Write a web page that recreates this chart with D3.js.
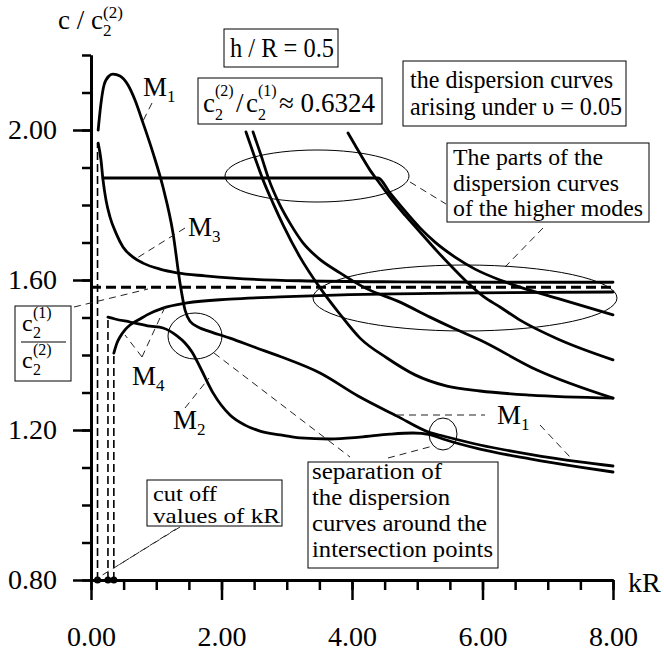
<!DOCTYPE html>
<head>
<meta charset="utf-8">
<style>
body { margin: 0; background: #fff; }
svg text { font-family: "Liberation Serif", "DejaVu Serif", serif; fill: #000; }
</style>
</head>
<body>
<script src="https://d3js.org/d3.v7.min.js"></script>
<script>
// axis ticks
var kRMajor = [0, 2, 4, 6, 8];
var kRMinor = d3.range(0, 8.01, 0.5);
var cMajor = [0.8, 1.2, 1.6, 2.0];
var cMinor = d3.range(0.8, 2.201, 0.1);

// c2(1)/c2(2) level and cut off values of kR
var ratio = 1.581;
var cutoffs = [0.1, 0.26, 0.35];

// dispersion curves [kR, c/c2(2)]
var modeM1 = [[0.11, 2.0], [0.15, 2.067], [0.2, 2.12], [0.276, 2.144], [0.337, 2.149], [0.444, 2.144],
    [0.567, 2.12], [0.674, 2.08], [0.797, 2.019], [0.95, 1.939], [1.103, 1.848], [1.257, 1.725],
    [1.364, 1.592], [1.441, 1.52], [1.517, 1.49], [1.67, 1.472], [1.778, 1.465], [2.13, 1.445],
    [2.52, 1.42], [2.9, 1.396], [3.51, 1.352], [4.1, 1.29], [4.69, 1.237], [5.195, 1.193],
    [5.395, 1.184], [5.962, 1.16], [6.728, 1.135], [7.494, 1.115], [8.0, 1.104]];
var modeM2 = [[0.26, 1.501], [0.368, 1.496], [0.598, 1.488], [0.904, 1.477], [1.103, 1.472],
    [1.318, 1.451], [1.441, 1.432], [1.548, 1.408], [1.67, 1.368], [1.87, 1.299], [2.13, 1.24],
    [2.36, 1.213], [2.59, 1.197], [2.897, 1.187], [3.203, 1.179], [3.663, 1.176], [4.123, 1.181],
    [4.582, 1.189], [4.935, 1.192], [5.195, 1.188], [5.395, 1.176], [5.962, 1.149], [6.728, 1.123],
    [7.494, 1.101], [8.0, 1.088]];
var modeM3 = [[0.11, 1.965], [0.153, 1.92], [0.184, 1.867], [0.23, 1.813], [0.291, 1.768],
    [0.383, 1.725], [0.49, 1.688], [0.644, 1.661], [0.797, 1.645], [1.057, 1.629], [1.318, 1.619],
    [1.747, 1.611], [2.176, 1.605], [3.203, 1.598], [4.736, 1.595], [6.268, 1.594], [8.0, 1.594]];
var modeM4 = [[0.35, 1.405], [0.398, 1.432], [0.444, 1.448], [0.521, 1.467], [0.598, 1.48],
    [0.751, 1.496], [0.858, 1.507], [1.103, 1.525], [1.471, 1.539], [2.13, 1.549], [2.897, 1.555],
    [3.969, 1.561], [5.502, 1.565], [8.0, 1.568]];
var higherA = [[2.375, 1.995], [2.498, 1.933], [2.636, 1.867], [2.789, 1.805], [2.943, 1.747],
    [3.203, 1.661], [3.51, 1.579], [3.801, 1.512], [4.123, 1.445], [4.536, 1.392], [4.966, 1.347],
    [5.456, 1.317], [5.962, 1.304], [6.728, 1.293], [8.0, 1.285]];
var higherB = [[2.483, 1.995], [2.605, 1.933], [2.728, 1.867], [2.881, 1.805], [3.065, 1.747],
    [3.249, 1.699], [3.479, 1.659], [3.816, 1.619], [4.199, 1.579], [4.736, 1.541], [5.195, 1.501],
    [5.548, 1.472], [5.962, 1.44], [6.835, 1.36], [8.0, 1.285]];
var higherC = [[3.939, 1.992], [4.046, 1.96], [4.153, 1.928], [4.276, 1.893], [4.398, 1.864],
    [4.582, 1.821], [4.812, 1.773], [5.042, 1.728], [5.303, 1.677], [5.548, 1.632], [5.778, 1.592],
    [6.008, 1.557], [6.268, 1.528], [6.575, 1.493], [7.188, 1.44], [8.0, 1.387]];
var higherD = [[0.184, 1.872], [4.398, 1.872], [4.582, 1.832], [4.812, 1.784], [5.042, 1.739],
    [5.272, 1.701], [5.579, 1.661], [5.885, 1.629], [6.268, 1.6], [6.575, 1.581], [7.188, 1.549],
    [8.0, 1.507]];

var width = 664, height = 656;
var serif = "Liberation Serif, DejaVu Serif, serif";

var svg = d3.select("body").append("svg")
    .attr("width", width)
    .attr("height", height)
    .attr("font-family", serif);

var x = d3.scaleLinear().domain([0, 8]).range([91, 613]);
var y = d3.scaleLinear().domain([0.8, 2.2]).range([580, 55]);

// axes
function styleAxis(g) {
    g.attr("font-family", serif).attr("font-size", null);
    g.select(".domain").attr("stroke-width", 3);
    g.selectAll(".tick line").attr("stroke-width", 2.5);
    g.selectAll(".tick text").attr("font-size", 28).attr("font-family", serif);
}
svg.append("g")
    .attr("transform", "translate(0,580)")
    .call(d3.axisBottom(x).tickValues(kRMinor).tickSize(10).tickSizeOuter(0).tickFormat(""))
    .call(styleAxis);
svg.append("g")
    .attr("transform", "translate(0,580)")
    .call(d3.axisBottom(x).tickValues(kRMajor).tickSize(20).tickSizeOuter(0).tickPadding(26).tickFormat(d3.format(".2f")))
    .call(styleAxis);
svg.append("g")
    .attr("transform", "translate(91,0)")
    .call(d3.axisLeft(y).tickValues(cMinor).tickSize(9).tickSizeOuter(0).tickFormat(""))
    .call(styleAxis);
svg.append("g")
    .attr("transform", "translate(91,0)")
    .call(d3.axisLeft(y).tickValues(cMajor).tickSize(18).tickSizeOuter(0).tickPadding(16).tickFormat(d3.format(".2f")))
    .call(styleAxis);

function label(txt, px, py, size, len) {
    var t = svg.append("text")
        .attr("x", px).attr("y", py)
        .attr("font-size", size)
        .attr("font-family", serif)
        .text(txt);
    if (len) t.attr("textLength", len).attr("lengthAdjust", "spacingAndGlyphs");
    return t;
}

// axis titles
var yt = label("c / c", 58, 29, 27);
yt.append("tspan").attr("font-size", 17).attr("dy", 7).text("2");
yt.append("tspan").attr("font-size", 17).attr("dx", -8.5).attr("dy", -18).text("(2)");
label("kR", 628, 592, 28);

// ratio line and cut off lines
svg.append("line")
    .attr("x1", x(0)).attr("x2", x(8))
    .attr("y1", y(ratio)).attr("y2", y(ratio))
    .attr("stroke", "#000").attr("stroke-width", 3)
    .attr("stroke-dasharray", "10,5");

var cutTops = [modeM3[0][1], modeM2[0][1], modeM4[0][1]];
svg.selectAll(".cut").data(cutoffs).enter().append("line")
    .attr("class", "cut")
    .attr("x1", function (d) { return x(d); })
    .attr("x2", function (d) { return x(d); })
    .attr("y1", y(0.8))
    .attr("y2", function (d, i) { return y(cutTops[i]); })
    .attr("stroke", "#000").attr("stroke-width", 1.6)
    .attr("stroke-dasharray", "8,4");
svg.selectAll(".dot").data(cutoffs).enter().append("circle")
    .attr("class", "dot")
    .attr("cx", function (d) { return x(d); })
    .attr("cy", y(0.8))
    .attr("r", 3.5)
    .attr("fill", "#000");

// curves
var line = d3.line()
    .x(function (d) { return x(d[0]); })
    .y(function (d) { return y(d[1]); })
    .curve(d3.curveMonotoneX);
[modeM1, modeM2, modeM3, modeM4, higherA, higherB, higherC, higherD].forEach(function (c) {
    svg.append("path")
        .attr("d", line(c))
        .attr("fill", "none")
        .attr("stroke", "#000")
        .attr("stroke-width", 2.8)
        .attr("stroke-linecap", "round");
});

// ellipses around the interesting regions
var rings = [[317, 176, 92, 26], [465, 298, 152, 33], [195, 336, 27, 23], [443, 434, 14, 16]];
rings.forEach(function (e) {
    svg.append("ellipse")
        .attr("cx", e[0]).attr("cy", e[1]).attr("rx", e[2]).attr("ry", e[3])
        .attr("fill", "none").attr("stroke", "#000").attr("stroke-width", 1);
});

// dashed leaders
var leaders = [[152, 103, 142, 123], [185, 228, 137, 258], [74, 307, 148, 289],
    [142, 357, 125, 335], [142, 357, 165, 307], [185, 408, 209, 378],
    [214, 353, 350, 457], [388, 458, 433, 446], [397, 415, 485, 415], [540, 425, 570, 457],
    [180, 527, 96, 579], [176, 529, 114, 568], [410, 182, 446, 204], [543, 228, 505, 267]];
leaders.forEach(function (l) {
    svg.append("line")
        .attr("x1", l[0]).attr("y1", l[1]).attr("x2", l[2]).attr("y2", l[3])
        .attr("stroke", "#222").attr("stroke-width", 1)
        .attr("stroke-dasharray", "7,5");
});

// boxes
var boxes = [[224, 29, 114, 38], [198, 78, 184, 46], [403, 61, 223, 65], [447, 143, 202, 79],
    [15, 306, 56, 75], [147, 480, 135, 46], [308, 462, 190, 106]];
boxes.forEach(function (b) {
    svg.append("rect")
        .attr("x", b[0]).attr("y", b[1]).attr("width", b[2]).attr("height", b[3])
        .attr("fill", "#fff").attr("stroke", "#000").attr("stroke-width", 1);
});

function mode(n, px, py) {
    var t = label("M", px, py, 27);
    t.append("tspan").attr("font-size", 17).attr("dy", 6).text(n);
}
mode("1", 143, 96);
mode("3", 188, 236);
mode("4", 132, 385);
mode("2", 173, 429);
mode("1", 497, 424);

label("h / R = 0.5", 230, 57, 27, 104);

label("c", 203, 112, 27);
label("(2)", 215, 96, 16);
label("2", 215, 120, 16);
label("/", 236, 112, 27);
label("c", 246, 112, 27);
label("(1)", 258, 96, 16);
label("2", 258, 120, 16);
label("\u2248 0.6324", 279, 112, 27, 96);

label("the dispersion curves", 410, 88, 25, 203);
label("arising under \u03c5 = 0.05", 410, 115, 25, 212);

label("The parts of the", 453, 165, 23, 150);
label("dispersion curves", 453, 191, 23, 166);
label("of the higher modes", 453, 216, 23, 190);

label("c", 22, 331, 24);
label("(1)", 33, 318, 16);
label("2", 33, 338, 16);
svg.append("line").attr("x1", 21).attr("x2", 66).attr("y1", 342).attr("y2", 342)
    .attr("stroke", "#000").attr("stroke-width", 1.2);
label("c", 22, 368, 24);
label("(2)", 33, 355, 16);
label("2", 33, 375, 16);

label("cut off", 153, 501, 21, 64);
label("values of  kR", 153, 523, 21, 127);

label("separation of", 312, 479, 23, 130);
label("the dispersion", 312, 505, 23, 138);
label("curves around the", 312, 531, 23, 175);
label("intersection points", 312, 557, 23, 181);
</script>
</body>
